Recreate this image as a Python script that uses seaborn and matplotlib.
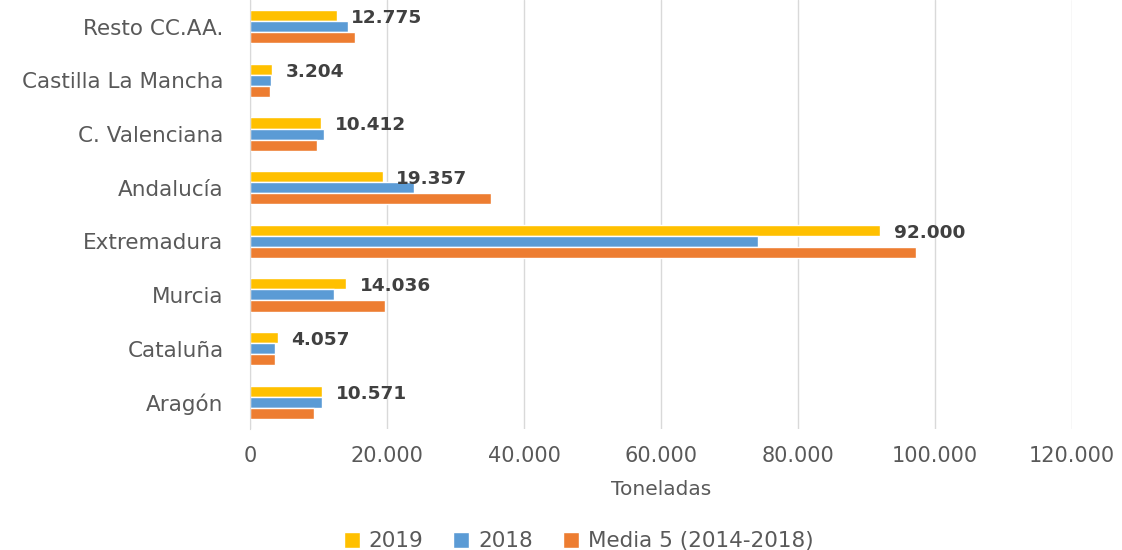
import matplotlib
matplotlib.use("Agg")
import matplotlib.pyplot as plt
import matplotlib.ticker as mticker
import seaborn as sns
import pandas as pd

# Values (toneladas)
regions = ["Resto CC.AA.", "Castilla La Mancha", "C. Valenciana", "Andalucía",
           "Extremadura", "Murcia", "Cataluña", "Aragón"]
series = ["2019", "2018", "Media 5 (2014-2018)"]
vals_2019 = [12775, 3204, 10412, 19357, 92000, 14036, 4057, 10571]
vals_2018 = [14250, 3100, 10750, 23900, 74200, 12200, 3650, 10500]
vals_media = [15400, 2900, 9800, 35250, 97300, 19750, 3650, 9300]
colors = ["#FFC000", "#5B9BD5", "#ED7D31"]

rows = []
for s, vals in zip(series, [vals_2019, vals_2018, vals_media]):
    for r, v in zip(regions, vals):
        rows.append({"Region": r, "Serie": s, "Toneladas": v})
df = pd.DataFrame(rows)

sns.set_style("white")
plt.rcParams["font.family"] = ["DejaVu Sans"]

fig = plt.figure(figsize=(11.22, 5.5), dpi=100)
ax = fig.add_axes([0.2228, 0.22, 0.9554 - 0.2228, 0.78])

sns.barplot(data=df, y="Region", x="Toneladas", hue="Serie", order=regions,
            hue_order=series, palette=colors, orient="h", width=0.62,
            gap=0, saturation=1, ax=ax, legend=True, errorbar=None)

# data labels for 2019 series
for i, v in enumerate(vals_2019):
    ax.text(v + 1950, i - 0.16, f"{v:,}".replace(",", "."), va="center",
            ha="left", fontsize=13.3, fontweight="bold", color="#404040")

ax.set_xlim(0, 120000)
ax.set_ylim(len(regions) - 0.5, -0.5)
ax.xaxis.set_major_locator(mticker.MultipleLocator(20000))
ax.xaxis.set_major_formatter(mticker.FuncFormatter(lambda x, p: f"{int(x):,}".replace(",", ".")))
ax.grid(axis="x", color="#D9D9D9", linewidth=1)
ax.set_axisbelow(True)
for side in ["top", "right", "bottom"]:
    ax.spines[side].set_visible(False)
ax.spines["left"].set_color("#D9D9D9")
ax.tick_params(axis="both", length=0, labelcolor="#595959")
ax.tick_params(axis="x", pad=12, labelsize=15)
ax.tick_params(axis="y", pad=19, labelsize=15.5)
ax.set_ylabel("")
ax.set_xlabel("Toneladas", fontsize=14.5, color="#595959", labelpad=10)

handles, labels = ax.get_legend_handles_labels()
ax.get_legend().remove()
fig.legend(handles, labels, loc="center", bbox_to_anchor=(0.5156, 0.016), ncol=3,
           frameon=False, fontsize=15.5, labelcolor="#595959", handlelength=0.75,
           handleheight=0.75, handletextpad=0.4, columnspacing=1.4)

fig.savefig("out.png", dpi=100)
